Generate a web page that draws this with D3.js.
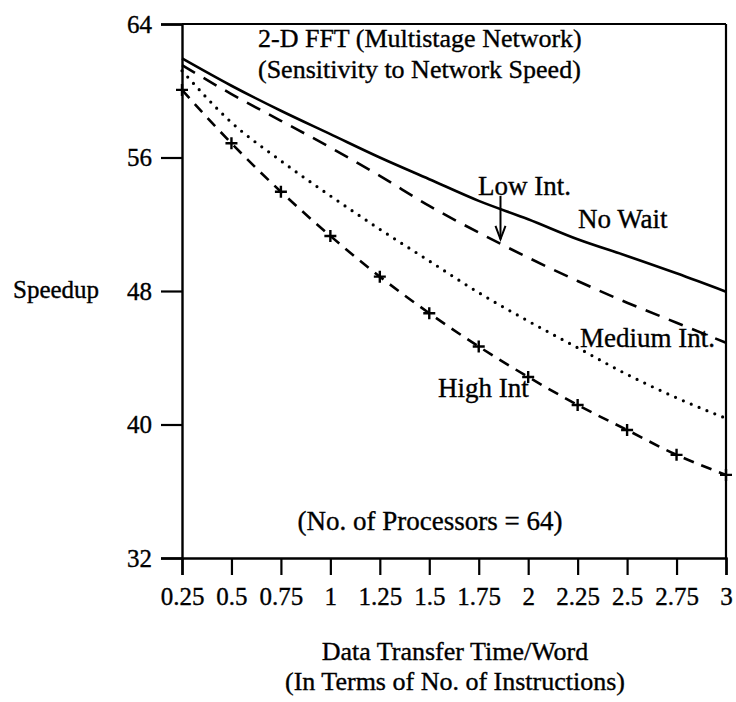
<!DOCTYPE html>
<html><head><meta charset="utf-8">
<script src="https://cdn.jsdelivr.net/npm/d3@7"></script>
<style>
html,body{margin:0;padding:0;background:#fff;}
svg text{font-family:"Liberation Serif","Times New Roman",serif;fill:#000;stroke:#000;stroke-width:0.35px;}
</style></head>
<body><svg id="chart" width="736" height="702"></svg>
<script>
// ---- data ----
const xValues = [0.25,0.5,0.75,1,1.25,1.5,1.75,2,2.25,2.5,2.75,3];
const xTickLabels = ["0.25","0.5","0.75","1","1.25","1.5","1.75","2","2.25","2.5","2.75","3"];
const yTicks = [32,40,48,56,64];
const noWait  = [61.94,60.3,58.8,57.4,56.0,54.7,53.4,52.3,51.1,50.1,49.06,47.96];
const lowInt  = [61.54,59.8,58.2,56.6,54.9,53.1,51.5,50.0,48.6,47.3,46.1,44.9];
const medInt  = [61.2,58.1,55.8,53.7,51.7,49.8,47.9,46.2,44.6,43.0,41.6,40.37];
const highInt = [60.05,56.85,53.95,51.3,48.86,46.67,44.67,42.85,41.17,39.67,38.18,36.98];
const seriesNames = ["No Wait","Low Int.","Medium Int.","High Int"];
const titleLines = ["2-D FFT (Multistage Network)","(Sensitivity to Network Speed)"];
const xTitleLines = ["Data Transfer Time/Word","(In Terms of No. of Instructions)"];
const yTitle = "Speedup";
const note = "(No. of Processors = 64)";

// ---- layout ----
const svg = d3.select("#chart");
const L = 182, R = 726, T = 24, B = 558;
const x = d3.scaleLinear().domain([0.25,3]).range([L,R]);
const y = d3.scaleLinear().domain([32,64]).range([B,T]);
const FS = 25, LFS = 27;

// frame
const frame = svg.append("g").attr("stroke","#000").attr("stroke-width",2.2).attr("fill","none");
frame.append("line").attr("x1",x(3)).attr("x2",x(3)).attr("y1",T).attr("y2",B);
frame.append("line").attr("x1",L).attr("x2",R).attr("y1",T).attr("y2",T);

// y axis
const yAxis = svg.append("g").attr("transform",`translate(${L},0)`)
  .call(d3.axisLeft(y).tickValues(yTicks).tickSize(21).tickPadding(9).tickFormat(d3.format("d")));
yAxis.select(".domain").attr("stroke-width",2.4);
yAxis.selectAll(".tick line").attr("stroke-width",2.2);
yAxis.selectAll("text").style("font-size",FS+"px").attr("font-family",null);

// x axis
const xAxis = svg.append("g").attr("transform",`translate(0,${B})`)
  .call(d3.axisBottom(x).tickValues(xValues).tickSize(17).tickPadding(12).tickFormat((d,i)=>xTickLabels[i]));
xAxis.select(".domain").attr("stroke-width",2.4);
xAxis.selectAll(".tick line").attr("stroke-width",2.2);
xAxis.selectAll("text").style("font-size",FS+"px").attr("font-family",null);

// lines
const line = d3.line().x((d,i)=>x(xValues[i])).y(d=>y(d)).curve(d3.curveMonotoneX);
const g = svg.append("g").attr("fill","none").attr("stroke","#000");
g.append("path").datum(noWait).attr("d",line).attr("stroke-width",2.6);
g.append("path").datum(lowInt).attr("d",line).attr("stroke-width",2.6).attr("stroke-dasharray","15,10");
g.append("path").datum(medInt).attr("d",line).attr("stroke-width",3.2).attr("stroke-linecap","round").attr("stroke-dasharray","0,8.5");
g.append("path").datum(highInt).attr("d",line).attr("stroke-width",2.6).attr("stroke-dasharray","11,8");
// markers on High Int
g.selectAll(".mk").data(highInt).enter().append("path").attr("class","mk")
  .attr("stroke-width",2.4)
  .attr("d",(d,i)=>{const cx=x(xValues[i]),cy=y(d);return `M${cx-6},${cy}L${cx+6},${cy}M${cx},${cy-6}L${cx},${cy+6}`;});

// title
svg.append("g").selectAll("text").data(titleLines).enter().append("text")
  .attr("x",258).attr("y",(d,i)=>46.5+i*31)
  .style("font-size","26px").text(d=>d);

// series labels
svg.append("text").attr("x",478).attr("y",195).style("font-size",LFS+"px").text(seriesNames[1]);
svg.append("text").attr("x",578).attr("y",228).style("font-size",LFS+"px").text(seriesNames[0]);
svg.append("text").attr("x",580).attr("y",347).style("font-size",LFS+"px").text(seriesNames[2]);
svg.append("text").attr("x",438).attr("y",397).style("font-size",LFS+"px").text(seriesNames[3]);

// arrow for Low Int.
const ax = x(1.86);
const a = svg.append("g").attr("stroke","#000").attr("stroke-width",2).attr("fill","none");
a.append("line").attr("x1",ax).attr("x2",ax).attr("y1",y(53.7)).attr("y2",y(51.1));
a.append("path").attr("d",`M${ax-5},${y(51.9)}L${ax},${y(51.1)}L${ax+5},${y(51.9)}`);

// note
svg.append("text").attr("x",430).attr("y",530).attr("text-anchor","middle").style("font-size","27px").text(note);

// y title
svg.append("text").attr("x",13).attr("y",298).style("font-size",FS+"px").text(yTitle);

// x title
svg.append("g").selectAll("text").data(xTitleLines).enter().append("text")
  .attr("x",455).attr("y",(d,i)=>660+i*30).attr("text-anchor","middle")
  .style("font-size","26px").text(d=>d);
</script></body></html>
